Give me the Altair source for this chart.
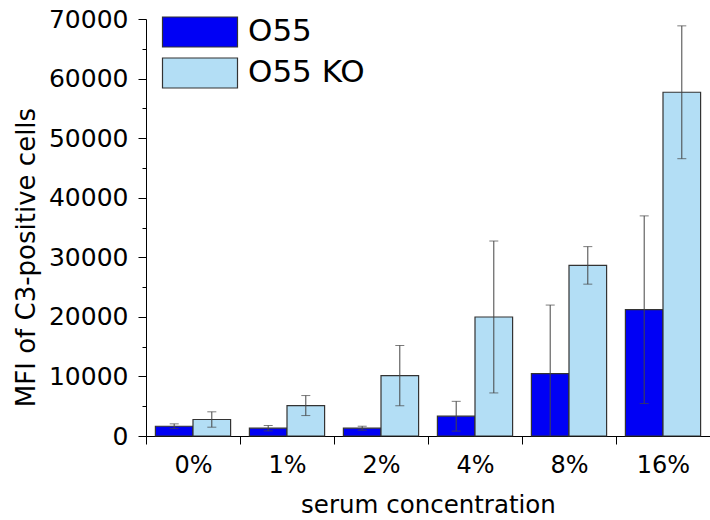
import altair as alt
import pandas as pd

categories = ["0%", "1%", "2%", "4%", "8%", "16%"]
series = ["O55", "O55 KO"]
o55_mean = [1640, 1310, 1310, 3320, 10480, 21200]
o55_err = [400, 450, 330, 2500, 11500, 15750]
ko_mean = [2770, 5110, 10140, 19980, 28640, 57700]
ko_err = [1290, 1680, 5060, 12750, 3150, 11150]

rows = []
for i, c in enumerate(categories):
    rows.append({"cat": c, "series": series[0], "mean": o55_mean[i], "err": o55_err[i]})
    rows.append({"cat": c, "series": series[1], "mean": ko_mean[i], "err": ko_err[i]})
df = pd.DataFrame(rows)

FONT = "DejaVu Sans"

base = alt.Chart(df).transform_calculate(
    lo="datum.mean - datum.err", hi="datum.mean + datum.err"
)

x_enc = alt.X(
    "cat:N",
    sort=categories,
    scale=alt.Scale(paddingInner=0, paddingOuter=0),
    axis=alt.Axis(
        tickBand="extent", tickSize=8, labelAngle=0, labelFont=FONT, labelFontSize=24,
        labelPadding=9, labelColor="black", domainColor="black", tickColor="black",
        title="serum concentration", titleFont=FONT, titleFontSize=24.5,
        titleFontWeight="normal", titleColor="black", titlePadding=16,
    ),
)
xo_enc = alt.XOffset("series:N", sort=series, scale=alt.Scale(paddingOuter=0.25, paddingInner=0))

y_scale = alt.Scale(domain=[0, 70000], nice=False, zero=True)
y_axis = alt.Axis(
    values=list(range(0, 70001, 5000)), format="d",
    labelExpr="datum.value % 10000 === 0 ? datum.label : ''",
    labelOverlap=False,
    tickSize={"condition": {"test": "datum.value % 10000 === 0", "value": 8}, "value": 4},
    grid=False, labelFont=FONT, labelFontSize=25, labelColor="black", labelPadding=10,
    domainColor="black", tickColor="black",
    title="MFI of C3-positive cells", titleFont=FONT, titleFontSize=26,
    titleFontWeight="normal", titleColor="black", titlePadding=9, titleY=238,
)

bars = base.mark_bar(stroke="#333333", strokeWidth=1.2).encode(
    x=x_enc,
    xOffset=xo_enc,
    y=alt.Y("mean:Q", scale=y_scale, axis=y_axis),
    color=alt.Color(
        "series:N",
        sort=series,
        scale=alt.Scale(domain=series, range=["#0000F5", "#B3DEF5"]),
        legend=alt.Legend(
            title=None, orient="none", legendX=38.5, legendY=-2.5, padding=0,
            symbolType="M-7.5,-3H7.5V3H-7.5Z", symbolSize=100,
            symbolStrokeColor="#333333", symbolStrokeWidth=1.2, symbolOpacity=1,
            labelFont=FONT, labelFontSize=31, labelColor="black", labelOffset=32.5,
            rowPadding=6,
        ),
    ),
)

rules = base.mark_rule(color="#444444", strokeWidth=1, clip=True).encode(
    x=x_enc, xOffset=xo_enc,
    y=alt.Y("lo:Q", scale=y_scale, axis=y_axis), y2="hi:Q",
)
caps_hi = base.mark_tick(color="#444444", thickness=1, size=9, clip=True).encode(
    x=x_enc, xOffset=xo_enc, y=alt.Y("hi:Q", scale=y_scale, axis=y_axis),
)
caps_lo = base.mark_tick(color="#444444", thickness=1, size=9, clip=True).encode(
    x=x_enc, xOffset=xo_enc, y=alt.Y("lo:Q", scale=y_scale, axis=y_axis),
)

chart = alt.layer(bars, rules, caps_hi, caps_lo).properties(
    width=564, height=417,
    background="white",
    autosize=alt.AutoSizeParams(type="none"),
    padding={"left": 146, "top": 19, "right": 0, "bottom": 84},
).configure_view(stroke="transparent", strokeWidth=0)

chart.save("out.html", embed_options={"renderer": "svg", "actions": False})
